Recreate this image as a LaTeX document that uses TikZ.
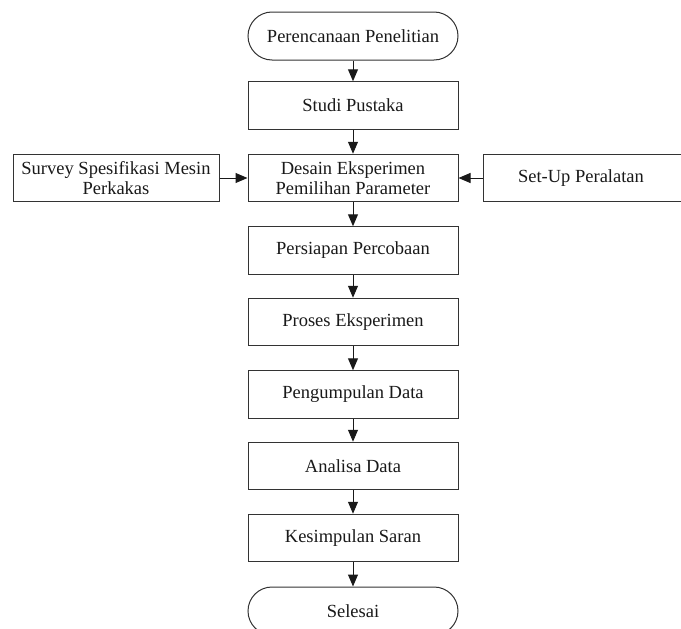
\documentclass[tikz,border=0pt]{standalone}
\usepackage{fontspec}
\setmainfont{Liberation Serif}
\usetikzlibrary{arrows.meta}
\begin{document}
\begin{tikzpicture}[x=1pt,y=-1pt,
  every node/.style={font=\fontsize{18.5}{20.5}\selectfont, align=center, inner sep=0pt, text=black!90},
  box/.style={draw=black!80, line width=1pt, minimum width=210pt, minimum height=47.5pt},
  term/.style={draw=black!80, line width=1pt, minimum width=210pt, minimum height=48pt, rounded corners=24pt},
  arr/.style={draw=black!90, line width=1pt, -{Triangle[length=12pt,width=10pt]}}]
\useasboundingbox (0,0) rectangle (681,629);
\clip (0,0) rectangle (681,629);
\node[term] (start) at (353,36) {Perencanaan Penelitian};
\node[box] (studi) at (353,105.5) {Studi Pustaka};
\node[box] (desain) at (353,178) {Desain Eksperimen\\Pemilihan Parameter};
\node[box, minimum width=206pt] (survey) at (116,178) {Survey Spesifikasi Mesin\\Perkakas};
\node[draw=black!80, line width=1pt, minimum width=206pt, minimum height=47.5pt] (setup) at (586,178) {};
\node (setuptext) at (581,178) {Set-Up Peralatan};
\node[box] (persiapan) at (353,250.5) {Persiapan Percobaan};
\node[box] (proses) at (353,322) {Proses Eksperimen};
\node[box] (kumpul) at (353,394.5) {Pengumpulan Data};
\node[box] (analisa) at (353,466) {Analisa Data};
\node[box] (simpul) at (353,538) {Kesimpulan Saran};
\node[term] (selesai) at (353,611) {Selesai};
\draw[arr] (start) -- (studi);
\draw[arr] (studi) -- (desain);
\draw[arr] (survey) -- (desain);
\draw[arr] (setup) -- (desain);
\draw[arr] (desain) -- (persiapan);
\draw[arr] (persiapan) -- (proses);
\draw[arr] (proses) -- (kumpul);
\draw[arr] (kumpul) -- (analisa);
\draw[arr] (analisa) -- (simpul);
\draw[arr] (simpul) -- (selesai);
\end{tikzpicture}
\end{document}
